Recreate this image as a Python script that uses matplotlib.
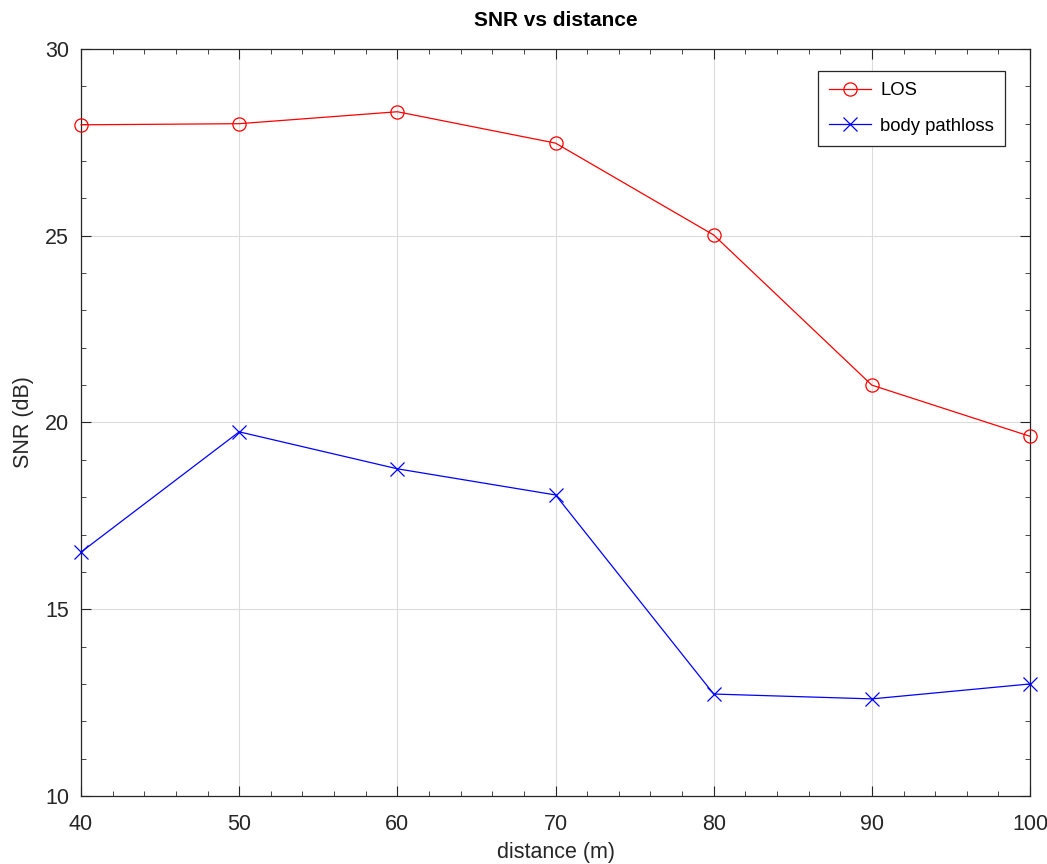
import matplotlib
matplotlib.use('Agg')
import matplotlib.pyplot as plt
from matplotlib.ticker import MultipleLocator

plt.rcParams['font.family'] = ['Liberation Sans', 'DejaVu Sans']

# Werte
distance = [40, 50, 60, 70, 80, 90, 100]
snr_los = [27.97, 28.0, 28.32, 27.48, 25.02, 21.0, 19.63]
snr_body = [16.53, 19.75, 18.76, 18.06, 12.73, 12.6, 13.0]

fig = plt.figure(figsize=(10.47, 8.64), dpi=100)
ax = fig.add_axes([0.0774, 0.0787, 0.9064, 0.8646])

ax.plot(distance, snr_los, color='red', marker='o', markersize=9.5,
        markerfacecolor='none', markeredgewidth=0.9, linewidth=0.9,
        label='LOS', clip_on=False, zorder=3)
ax.plot(distance, snr_body, color='blue', marker='x', markersize=10,
        markeredgewidth=0.9, linewidth=0.9, label='body pathloss',
        clip_on=False, zorder=3)

ax.set_xlim(40, 100)
ax.set_ylim(10, 30)
ax.xaxis.set_major_locator(MultipleLocator(10))
ax.yaxis.set_major_locator(MultipleLocator(5))
ax.xaxis.set_minor_locator(MultipleLocator(2))
ax.yaxis.set_minor_locator(MultipleLocator(1))
ax.tick_params(which='both', direction='in', top=True, right=True,
               color='#262626', labelsize=15.5, labelcolor='#262626')
ax.tick_params(which='major', length=7)
ax.tick_params(axis='x', which='major', pad=13)
ax.tick_params(axis='y', which='major', pad=8.5)
ax.tick_params(which='minor', length=3.5)
ax.grid(True, which='major', color='#dcdcdc', linewidth=0.8)
ax.set_axisbelow(True)
for s in ax.spines.values():
    s.set_color('#262626')
    s.set_linewidth(0.9)

ax.set_xlabel('distance (m)', fontsize=15.5, color='#262626', labelpad=5)
ax.set_ylabel('SNR (dB)', fontsize=15.5, color='#262626', labelpad=8)
ax.set_title('SNR vs distance', fontsize=15, fontweight='bold', pad=16.5)

leg = ax.legend(loc='upper right', bbox_to_anchor=(0.974, 0.97), fontsize=13.3,
                fancybox=False, framealpha=1, edgecolor='#262626',
                handlelength=2.3, handletextpad=0.5, borderpad=0.6,
                labelspacing=1.0, borderaxespad=0)
leg.get_frame().set_linewidth(0.9)

plt.savefig('out.png', dpi=100)
plt.close()
